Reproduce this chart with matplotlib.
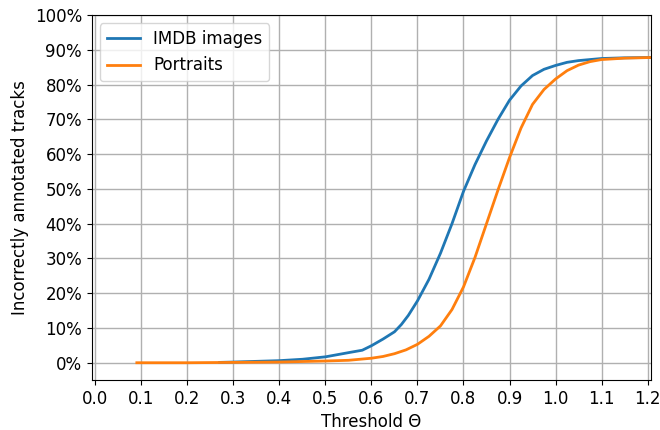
import numpy as np
import matplotlib.pyplot as plt
from matplotlib.ticker import PercentFormatter

# Значения (доля ошибочно размеченных треков, %)
imdb_x = [0.27, 0.30, 0.35, 0.40, 0.45, 0.50, 0.55, 0.58, 0.60, 0.625, 0.65, 0.665,
          0.68, 0.70, 0.725, 0.75, 0.775, 0.80, 0.825, 0.85, 0.875, 0.90, 0.925,
          0.95, 0.975, 1.00, 1.025, 1.05, 1.10, 1.15, 1.21]
imdb_y = [0.1, 0.2, 0.4, 0.6, 1.0, 1.7, 2.9, 3.6, 4.9, 6.8, 8.9, 11.0,
          13.6, 17.8, 24.0, 31.5, 40.0, 49.3, 57.0, 63.8, 70.0, 75.5, 79.6,
          82.6, 84.4, 85.5, 86.4, 86.9, 87.5, 87.7, 87.8]

portraits_x = [0.09, 0.15, 0.20, 0.30, 0.40, 0.45, 0.50, 0.55, 0.60, 0.625, 0.65,
               0.675, 0.70, 0.725, 0.75, 0.775, 0.80, 0.825, 0.85, 0.875, 0.90,
               0.925, 0.95, 0.975, 1.00, 1.025, 1.05, 1.075, 1.10, 1.15, 1.21]
portraits_y = [0.0, 0.0, 0.0, 0.1, 0.2, 0.35, 0.5, 0.7, 1.3, 1.8, 2.6,
               3.7, 5.3, 7.6, 10.6, 15.3, 21.8, 30.3, 40.0, 49.7, 59.0,
               67.5, 74.3, 78.6, 81.6, 84.0, 85.6, 86.6, 87.2, 87.6, 87.8]

plt.rcParams['font.size'] = 12

fig = plt.figure(figsize=(6.6, 4.3), dpi=100)
ax = fig.add_axes([0.139, 0.116, 0.847, 0.849])
ax.plot(imdb_x, imdb_y, color='tab:blue', lw=2, label='IMDB images')
ax.plot(portraits_x, portraits_y, color='tab:orange', lw=2, label='Portraits')

ax.set_xlim(-0.008, 1.207)
ax.set_ylim(-5, 100)
ax.set_xticks(np.arange(0, 1.21, 0.1))
ax.set_yticks(np.arange(0, 101, 10))
ax.yaxis.set_major_formatter(PercentFormatter(100, decimals=0))
ax.grid(True, color='#b0b0b0', lw=1)
ax.set_axisbelow(True)
ax.set_xlabel('Threshold Θ')
ax.set_ylabel('Incorrectly annotated tracks')
ax.legend(loc='upper left')

fig.savefig('out.png', dpi=100)
